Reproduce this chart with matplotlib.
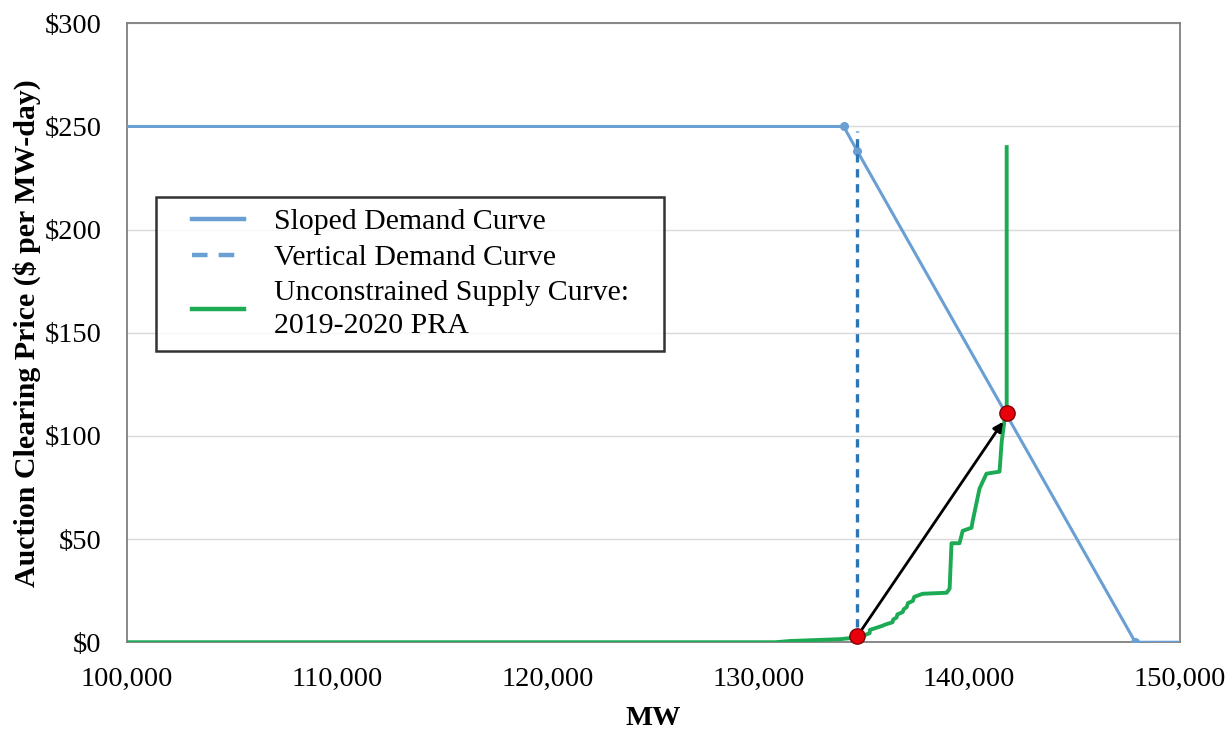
import matplotlib.pyplot as plt
from matplotlib.ticker import FuncFormatter
from matplotlib.legend_handler import HandlerLine2D
from matplotlib.lines import Line2D

plt.rcParams['font.family'] = ['Liberation Serif', 'DejaVu Serif']

# sloped demand curve (MW, $/MW-day)
demand_mw = [100000, 134050, 134700, 147900, 150000]
demand_price = [250, 250, 238, 0, 0]

# vertical demand curve
vert_mw = [134700, 134700]
vert_price = [0, 248]

# unconstrained supply curve 2019-2020 PRA
supply_mw = [100000, 130800, 131500, 133900, 134800, 135280, 135300, 135900, 136000, 136370,
             136400, 136560, 136600, 136850, 136900, 137040, 137100, 137330, 137400, 137800,
             138940, 139080, 139170, 139550, 139700, 140120, 140170, 140500, 140830, 141450,
             141550, 141690, 141790, 141790]
supply_price = [0, 0, 0.6, 1.5, 2.5, 4.4, 6, 8, 8.5, 9.7, 11, 12, 13.5, 14.6, 16, 17, 19,
                20, 22, 23.5, 24, 26, 48, 48, 54, 55.5, 58.5, 74.5, 81.7, 82.7, 97, 108,
                111, 240]

# clearing points
clear_mw = [134700, 141790]
clear_price = [3, 111]

fig = plt.figure(figsize=(12.3, 7.29), dpi=100)
ax = fig.add_axes([0.103, 0.119, 0.856, 0.849])

ax.plot(demand_mw, demand_price, color='#6A9FD4', lw=2.2, zorder=3)
ax.plot(demand_mw[1:4], demand_price[1:4], 'o', color='#6A9FD4', ms=5.5, zorder=3)
ax.plot(vert_mw, vert_price, color='#2E75B6', lw=2.4, ls=(0, (2.5, 2)), zorder=3)
ax.plot(supply_mw, supply_price, color='#1DAA54', lw=2.8, zorder=4)

ax.annotate('', xy=(clear_mw[1] - 100, clear_price[1] - 3), xytext=(clear_mw[0], clear_price[0]),
            arrowprops=dict(arrowstyle='-|>', color='black', lw=2, mutation_scale=14), zorder=5)
ax.plot(clear_mw, clear_price, 'o', color='#E8000B', mec='#7F0000', mew=1, ms=11,
        zorder=6, clip_on=False)

ax.set_xlim(100000, 150000)
ax.set_ylim(0, 300)
ax.set_xticks(range(100000, 150001, 10000))
ax.set_yticks(range(0, 301, 50))
ax.xaxis.set_major_formatter(FuncFormatter(lambda v, p: f'{int(v):,}'))
ax.yaxis.set_major_formatter(FuncFormatter(lambda v, p: f'${int(v)}'))
ax.tick_params(length=0, labelsize=20.5)
ax.tick_params(axis='x', pad=18)
ax.tick_params(axis='y', pad=18)
ax.grid(axis='y', color='#D9D9D9', lw=1)
ax.set_axisbelow(True)
for s in ax.spines.values():
    s.set_color('#7F7F7F')
    s.set_linewidth(1.3)

ax.set_xlabel('MW', fontsize=20.5, fontweight='bold', labelpad=10)
ax.set_ylabel('Auction Clearing Price ($ per MW-day)', fontsize=21.5, fontweight='bold', labelpad=3)

handles = [Line2D([], [], color='#6A9FD4', lw=3.2),
           Line2D([], [], color='#6A9FD4', lw=3.2, ls=(0, (3.5, 2.5))),
           Line2D([], [], color='#1DAA54', lw=3.2)]
labels = ['Sloped Demand Curve', 'Vertical Demand Curve',
          'Unconstrained Supply Curve:   \n2019-2020 PRA']
leg = ax.legend(handles, labels, loc='upper left', bbox_to_anchor=(0.028, 0.72),
                fontsize=21.5, frameon=True, fancybox=False, edgecolor='black',
                handlelength=2.55, handletextpad=1.0, borderpad=0.4, labelspacing=0.3,
                borderaxespad=0, handler_map={Line2D: HandlerLine2D(xpad=0.8)})
leg.get_frame().set_linewidth(1.8)
for t in leg.get_texts():
    t.set_linespacing(1.35)

fig.savefig('out.png', dpi=100)
